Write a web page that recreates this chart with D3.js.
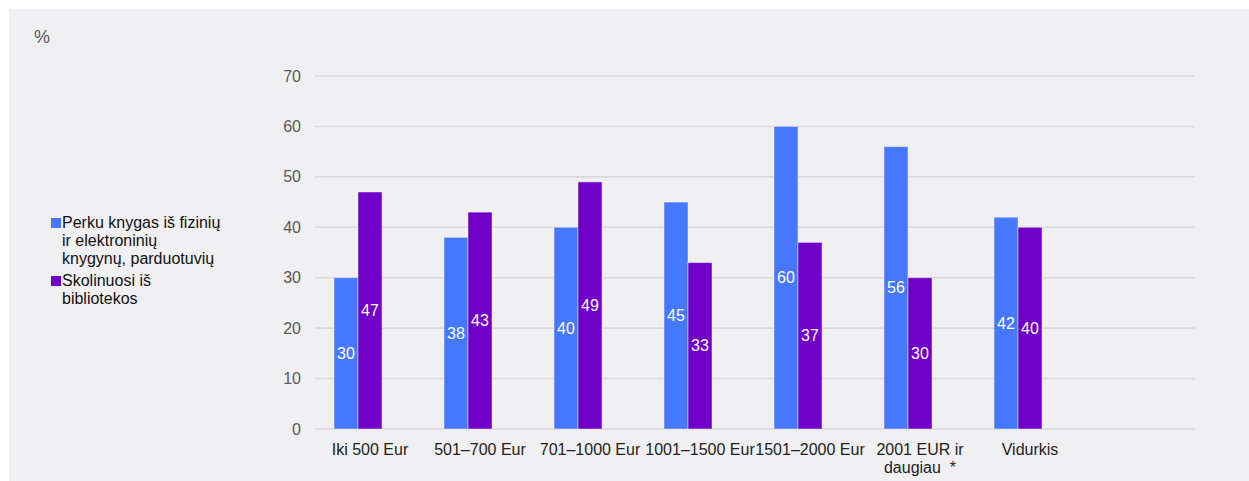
<!DOCTYPE html>
<html><head><meta charset="utf-8">
<script src="https://cdn.jsdelivr.net/npm/d3@7"></script>
<style>
html,body{margin:0;padding:0;background:#fff;}
svg{display:block;font-family:"Liberation Sans",Arial,sans-serif;}
</style></head>
<body>
<svg id="chart" width="1249" height="481"></svg>
<script>
const categories = ["Iki 500 Eur","501–700 Eur","701–1000 Eur","1001–1500 Eur","1501–2000 Eur","2001 EUR ir\ndaugiau  *","Vidurkis",""];
const seriesNames = ["Perku knygas iš fizinių ir elektroninių knygynų, parduotuvių","Skolinuosi iš bibliotekos"];
const buyValues = [30,38,40,45,60,56,42];
const borrowValues = [47,43,49,33,37,30,40];
const yTicks = [0,10,20,30,40,50,60,70];
const legendLines = [["Perku knygas iš fizinių","ir elektroninių","knygynų, parduotuvių"],["Skolinuosi iš","bibliotekos"]];
const colors = ["#4677ff","#7000c8"];

const svg = d3.select("#chart");
svg.append("rect").attr("x",9).attr("y",9).attr("width",1240).attr("height",472).attr("fill","#f0f0f3");

const x = d3.scaleBand().domain(d3.range(categories.length)).range([315,1195]).padding(0);
const x1 = d3.scaleBand().domain([0,1,2]).range([19,91]).padding(0);
const y = d3.scaleLinear().domain([0,70]).range([429,76]);

// grid
svg.append("g").selectAll("line").data(yTicks).join("line")
  .attr("x1",315).attr("x2",1195)
  .attr("y1",d=>y(d)).attr("y2",d=>y(d))
  .attr("stroke","#d9d9dc").attr("stroke-width",1.6);

// y tick labels
svg.append("g").selectAll("text").data(yTicks).join("text")
  .attr("x",301).attr("y",d=>y(d)).attr("dy","0.35em")
  .attr("text-anchor","end").attr("font-size",16).attr("fill","#595959")
  .text(d=>d);

svg.append("text").attr("x",34).attr("y",43).attr("font-size",18).attr("fill","#595959").text("%");

const series = [buyValues, borrowValues];
series.forEach((vals,si)=>{
  const g = svg.append("g");
  g.selectAll("rect").data(vals).join("rect")
    .attr("x",(d,i)=>x(i)+x1(si))
    .attr("y",d=>y(d))
    .attr("width",x1.bandwidth())
    .attr("height",d=>y(0)-y(d))
    .attr("fill",colors[si])
    .attr("stroke","rgba(255,255,255,0.45)").attr("stroke-width",1);
  g.selectAll("text").data(vals).join("text")
    .attr("x",(d,i)=>x(i)+x1(si)+x1.bandwidth()/2)
    .attr("y",d=>(y(d)+y(0))/2).attr("dy","0.35em")
    .attr("text-anchor","middle").attr("font-size",16).attr("fill","#fff")
    .text(d=>d);
});

// category labels
const cg = svg.append("g");
categories.forEach((c,i)=>{
  const t = cg.append("text").attr("text-anchor","middle").attr("font-size",16).attr("fill","#222")
    .attr("x",x(i)+x.bandwidth()/2).attr("y",455);
  c.split("\n").forEach((line,li)=>{
    t.append("tspan").attr("x",x(i)+x.bandwidth()/2).attr("dy",li===0?0:18).attr("xml:space","preserve").text(line);
  });
});

// legend
const lg = svg.append("g");
let ly = 228;
legendLines.forEach((lines,si)=>{
  lg.append("rect").attr("x",51).attr("y",ly-10).attr("width",10).attr("height",10).attr("fill",colors[si]);
  lines.forEach((line,li)=>{
    lg.append("text").attr("x",62).attr("y",ly+li*18).attr("font-size",16).attr("fill","#111").text(line);
  });
  ly += lines.length*18 + 4;
});
</script>
</body></html>
